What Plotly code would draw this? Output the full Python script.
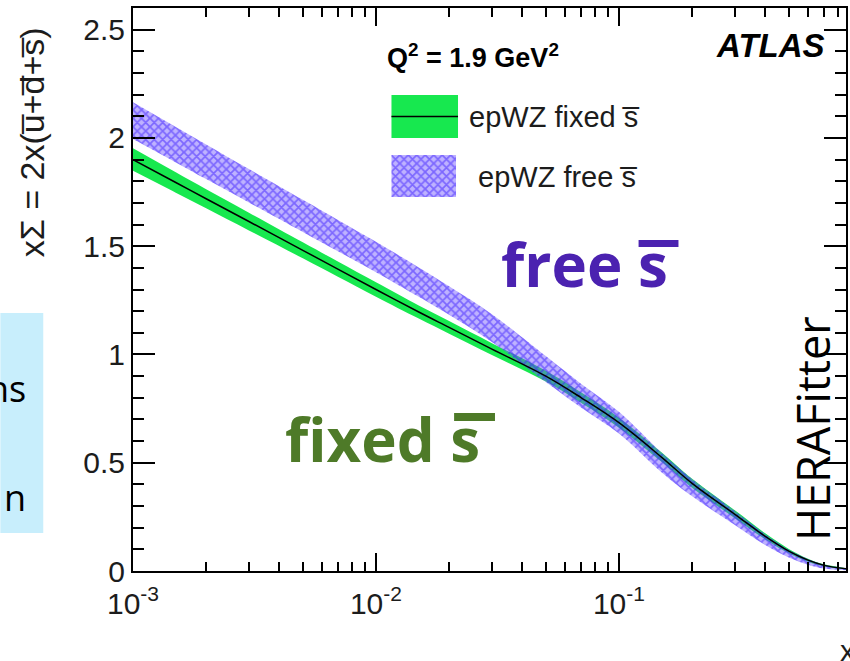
import numpy as np
import plotly.graph_objects as go

# ---- data ----
x_vals = [0.001, 0.0015, 0.002, 0.003, 0.005, 0.007, 0.01, 0.015, 0.02, 0.03,
          0.05, 0.07, 0.1, 0.15, 0.2, 0.3, 0.4, 0.5, 0.6, 0.7, 0.86]
fixed_central = [1.90, 1.794, 1.719, 1.614, 1.481, 1.393, 1.30, 1.196, 1.125, 1.025,
                 0.90, 0.80, 0.685, 0.525, 0.405, 0.262, 0.16, 0.092, 0.05, 0.026, 0.010]
fixed_err = [0.052, 0.047, 0.044, 0.041, 0.037, 0.035, 0.033, 0.030, 0.029, 0.027,
             0.025, 0.024, 0.023, 0.022, 0.021, 0.018, 0.014, 0.010, 0.007, 0.005, 0.003]
free_central = [2.08, 1.969, 1.890, 1.779, 1.640, 1.548, 1.45, 1.334, 1.249, 1.122,
                0.933, 0.809, 0.685, 0.50, 0.385, 0.245, 0.145, 0.080, 0.042, 0.020, 0.008]
free_err = [0.085, 0.082, 0.080, 0.077, 0.074, 0.072, 0.070, 0.068, 0.066, 0.064,
            0.060, 0.055, 0.050, 0.045, 0.040, 0.032, 0.025, 0.018, 0.013, 0.009, 0.005]

x_tick_vals = [0.001, 0.01, 0.1]
x_tick_text = ["10<sup>-3</sup>", "10<sup>-2</sup>", "10<sup>-1</sup>"]
y_tick_vals = [0, 0.5, 1, 1.5, 2, 2.5]
y_tick_text = ["0", "0.5", "1", "1.5", "2", "2.5"]

legend_labels = ["epWZ fixed s\u0305", "epWZ free s\u0305"]

GREEN = "#17e84f"
BLUE = "#3a1cff"
W, H = 850, 661
L, R, T, B = 133, 848, 8, 571


def px(x):
    return (x - L) / (R - L)


def py(y):
    return (B - y) / (B - T)


fixed_lo = [c - e for c, e in zip(fixed_central, fixed_err)]
fixed_hi = [c + e for c, e in zip(fixed_central, fixed_err)]
free_lo = [c - e for c, e in zip(free_central, free_err)]
free_hi = [c + e for c, e in zip(free_central, free_err)]

hatch = dict(shape="x", fgcolor=BLUE, bgcolor="rgba(110,85,255,0.45)", size=6, solidity=0.5)

fig = go.Figure()
fig.add_trace(go.Scatter(x=x_vals, y=fixed_lo, mode="lines", line=dict(width=0, shape="spline", smoothing=1.0),
                         showlegend=False, hoverinfo="skip"))
fig.add_trace(go.Scatter(x=x_vals, y=fixed_hi, mode="lines", line=dict(width=0, shape="spline", smoothing=1.0),
                         fill="tonexty", fillcolor=GREEN, showlegend=False, hoverinfo="skip"))
fig.add_trace(go.Scatter(x=x_vals, y=free_lo, mode="lines", line=dict(width=0, shape="spline", smoothing=1.0),
                         showlegend=False, hoverinfo="skip"))
fig.add_trace(go.Scatter(x=x_vals, y=free_hi, mode="lines", line=dict(width=0, shape="spline", smoothing=1.0),
                         fill="tonexty", fillcolor="rgba(0,0,0,0)", fillpattern=hatch,
                         showlegend=False, hoverinfo="skip"))
fig.add_trace(go.Scatter(x=x_vals, y=fixed_central, mode="lines",
                         line=dict(color="black", width=1.5, shape="spline", smoothing=1.0),
                         showlegend=False, hoverinfo="skip"))

# legend swatches on overlay axes
fig.add_trace(go.Scatter(x=[0, 1, 1, 0, 0], y=[0, 0, 1, 1, 0], mode="lines", line=dict(width=0),
                         fill="toself", fillcolor=GREEN, xaxis="x2", yaxis="y2",
                         showlegend=False, hoverinfo="skip"))
fig.add_trace(go.Scatter(x=[0, 1], y=[0.5, 0.5], mode="lines", line=dict(color="black", width=1.5),
                         xaxis="x2", yaxis="y2", showlegend=False, hoverinfo="skip"))
fig.add_trace(go.Scatter(x=[0, 1, 1, 0, 0], y=[0, 0, 1, 1, 0], mode="lines", line=dict(width=0),
                         fill="toself", fillcolor="rgba(0,0,0,0)", fillpattern=hatch,
                         xaxis="x3", yaxis="y3", showlegend=False, hoverinfo="skip"))

minor_x = []
for d in [0.001, 0.01, 0.1]:
    for k in range(2, 10):
        if d * k < 0.86:
            minor_x.append(d * k)
minor_y = [round(v * 0.1, 1) for v in range(0, 27) if v % 5 != 0]

tickfont = dict(family="Liberation Sans, Arial, sans-serif", size=30, color="#1c1c1c")

fig.update_layout(
    width=W, height=H,
    margin=dict(l=L, r=W - R, t=T, b=H - B),
    paper_bgcolor="white", plot_bgcolor="white",
    showlegend=False,
    xaxis=dict(type="log", range=[-3, np.log10(0.86)], tickvals=x_tick_vals, ticktext=x_tick_text,
               ticks="inside", ticklen=18, tickwidth=1.5, tickcolor="black", ticklabelstandoff=5,
               showline=True, linecolor="black", linewidth=2, mirror="allticks",
               showgrid=False, zeroline=False, tickfont=tickfont,
               minor=dict(tickvals=minor_x, ticks="inside", ticklen=9, tickwidth=1.5,
                          tickcolor="black", showgrid=False)),
    yaxis=dict(range=[0, 2.6], tickvals=y_tick_vals, ticktext=y_tick_text,
               ticks="inside", ticklen=22, tickwidth=1.5, tickcolor="black",
               showline=True, linecolor="black", linewidth=2, mirror="allticks",
               showgrid=False, zeroline=False, tickfont=tickfont,
               minor=dict(tickvals=minor_y, ticks="inside", ticklen=11, tickwidth=1.5,
                          tickcolor="black", showgrid=False)),
    xaxis2=dict(domain=[px(392), px(459)], range=[0, 1], visible=False, anchor="y2"),
    yaxis2=dict(domain=[py(138), py(95)], range=[0, 1], visible=False, anchor="x2"),
    xaxis3=dict(domain=[px(392), px(457)], range=[0, 1], visible=False, anchor="y3"),
    yaxis3=dict(domain=[py(197), py(155)], range=[0, 1], visible=False, anchor="x3"),
)

# left light-blue box (cropped slide text)
fig.add_shape(type="rect", xref="paper", yref="paper", x0=px(0), x1=px(43), y0=py(533), y1=py(313),
              fillcolor="#c8eefc", line=dict(width=0), layer="below")
# overline bars of the big "s" labels
fig.add_shape(type="rect", xref="paper", yref="paper", x0=px(640), x1=px(680), y0=py(247), y1=py(240),
              fillcolor="#4b22b0", line=dict(width=0))
fig.add_shape(type="rect", xref="paper", yref="paper", x0=px(455), x1=px(496), y0=py(421), y1=py(413),
              fillcolor="#4e7a28", line=dict(width=0))

ann = []
ann.append(dict(text="xΣ = 2x(u\u0305+d\u0305+s\u0305)", x=px(32), y=py(142), textangle=-90,
                font=dict(family="Liberation Sans, Arial", size=34, color="#1c1c1c")))
ann.append(dict(text="<b>Q<sup>2</sup> = 1.9 GeV<sup>2</sup></b>", x=px(386), y=py(56), xanchor="left",
                font=dict(family="Liberation Sans, Arial", size=27, color="black")))
ann.append(dict(text=legend_labels[0], x=px(468), y=py(117), xanchor="left",
                font=dict(family="Liberation Sans, Arial", size=29, color="#1c1c1c")))
ann.append(dict(text=legend_labels[1], x=px(477), y=py(177), xanchor="left",
                font=dict(family="Liberation Sans, Arial", size=29, color="#1c1c1c")))
ann.append(dict(text="<b><i>ATLAS</i></b>", x=px(829), y=py(45), xanchor="right",
                font=dict(family="Liberation Sans, Arial", size=33, color="black")))
ann.append(dict(text="HERAFitter", x=px(815), y=py(429), textangle=-90,
                font=dict(family="Open Sans", size=45, color="black")))
ann.append(dict(text="<b>free s</b>", x=px(500), y=py(264), xanchor="left",
                font=dict(family="Open Sans", size=60, color="#4b22b0")))
ann.append(dict(text="<b>fixed s</b>", x=px(283), y=py(439), xanchor="left",
                font=dict(family="Open Sans", size=60, color="#4e7a28")))
ann.append(dict(text="ns", x=px(28), y=py(388), xanchor="right",
                font=dict(family="Open Sans", size=36, color="black")))
ann.append(dict(text="n", x=px(28), y=py(497), xanchor="right",
                font=dict(family="Open Sans", size=36, color="black")))
ann.append(dict(text="x", x=px(840), y=py(650), xanchor="left",
                font=dict(family="Liberation Sans, Arial", size=30, color="#1c1c1c")))
for a in ann:
    a.setdefault("xanchor", "center")
    a.setdefault("yanchor", "middle")
    a.update(xref="paper", yref="paper", showarrow=False)
    fig.add_annotation(**a)

fig.write_html("out.html", config={"displayModeBar": False},
               post_script="document.body.style.margin='0';document.body.style.overflow='hidden';")
